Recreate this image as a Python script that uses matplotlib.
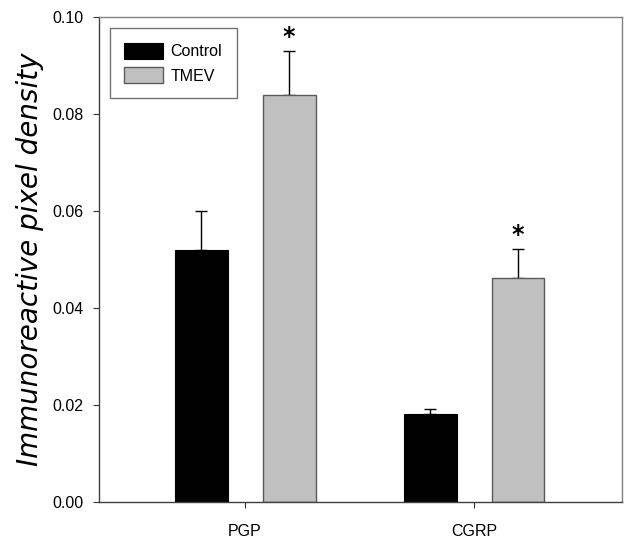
#!/usr/bin/env python3

import matplotlib
matplotlib.use("Agg")
import matplotlib.pyplot as plt
import numpy as np

# values
categories = ["PGP", "CGRP"]
groups = ["Control", "TMEV"]
control_means = [0.052, 0.0181]
control_errs = [0.008, 0.0011]
tmev_means = [0.084, 0.0462]
tmev_errs = [0.009, 0.006]
significant = [True, True]  # TMEV vs control

plt.rcParams["font.family"] = ["Liberation Sans", "DejaVu Sans"]

fig = plt.figure(figsize=(6.29, 5.42), dpi=100)
ax = fig.add_axes([99 / 629, 40 / 542, 523 / 629, 485 / 542])

x = np.arange(len(categories))
offset = 0.192
width = 0.231

# error bars go under the bars so only the upper half shows
for xs, means, errs in [(x - offset, control_means, control_errs),
                        (x + offset, tmev_means, tmev_errs)]:
    ax.errorbar(xs, means, yerr=[np.zeros(len(xs)), errs], fmt="none",
                ecolor="black", elinewidth=1.0, capsize=4.5, capthick=1.0,
                zorder=1)

ax.bar(x - offset, control_means, width, color="black", edgecolor="black",
       linewidth=0.8, label=groups[0], zorder=2)
ax.bar(x + offset, tmev_means, width, color="#c0c0c0", edgecolor="#5a5a5a",
       linewidth=1.0, label=groups[1], zorder=2)

for xi, m, e, sig in zip(x, tmev_means, tmev_errs, significant):
    if sig:
        ax.text(xi + offset, m + e + 0.0004, "*", ha="center", va="bottom",
                fontsize=17, fontweight="bold", color="black",
                family="DejaVu Sans")

ax.set_xlim(-0.638, 1.646)
ax.set_ylim(0, 0.10)
ax.set_yticks([0.00, 0.02, 0.04, 0.06, 0.08, 0.10])
ax.set_yticklabels(["0.00", "0.02", "0.04", "0.06", "0.08", "0.10"])
ax.set_xticks(x)
ax.set_xticklabels(categories)
ax.tick_params(axis="both", direction="out", length=4, width=0.8,
               color="#333333", labelsize=11.5)
ax.tick_params(axis="y", pad=7)
ax.tick_params(axis="x", pad=12)

for side in ["left", "bottom"]:
    ax.spines[side].set_color("#404040")
    ax.spines[side].set_linewidth(1.0)
for side in ["top", "right"]:
    ax.spines[side].set_color("#808080")
    ax.spines[side].set_linewidth(1.0)

ax.set_ylabel("Immunoreactive pixel density", fontsize=20, style="italic",
              family="DejaVu Sans", labelpad=6)

leg = ax.legend(loc="upper left", bbox_to_anchor=(0.021, 0.977), fontsize=11.5,
                frameon=True, fancybox=False, edgecolor="#505050",
                borderaxespad=0, handlelength=2.4, handleheight=1.2,
                borderpad=0.9, labelspacing=0.5, handletextpad=0.5)
leg.get_frame().set_linewidth(1.0)

fig.savefig("out.png", dpi=100)
